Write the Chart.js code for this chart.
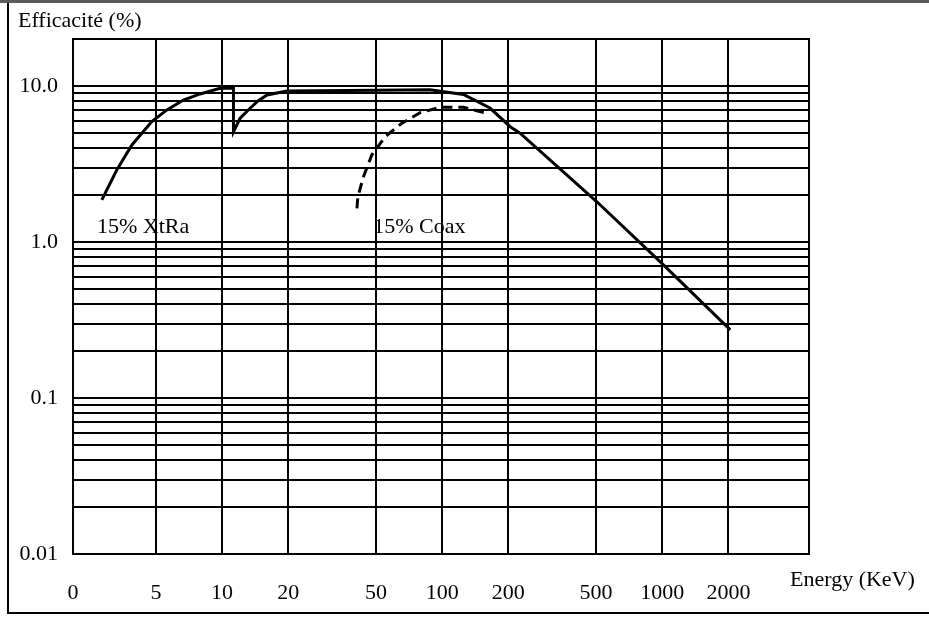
<!DOCTYPE html>
<html>
<head>
<meta charset="utf-8">
<script src="https://cdn.jsdelivr.net/npm/chart.js@4.4.1/dist/chart.umd.min.js"></script>
<style>
  html, body { margin: 0; padding: 0; background: #fff; }
  canvas { display: block; }
</style>
</head>
<body>
<canvas id="chart" width="929" height="617"></canvas>
<script>
// Data (energy in keV, efficiency in %)
const xtraEnergy = [2.84, 3.32, 3.89, 4.79, 5.61, 6.67, 7.94, 9.79, 11.26, 11.26, 12.07, 13.4, 14.6, 16.0, 19.7, 50, 88, 125, 165, 204, 226, 505, 997, 2040];
const xtraEff    = [1.86, 2.89, 4.19, 5.91, 7.02, 8.13, 8.89, 9.67, 9.67, 5.09, 6.21, 7.2, 8.05, 8.75, 9.29, 9.4, 9.45, 8.82, 7.22, 5.48, 4.98, 1.81, 0.73, 0.273];

const coaxEnergy = [41.0, 41.4, 43.9, 47.9, 55.1, 65.6, 79.4, 97.9, 125, 160];
const coaxEff    = [1.64, 1.95, 2.62, 3.61, 4.73, 5.77, 6.74, 7.30, 7.30, 6.68];

// Axis ticks (the "0" label sits on the left edge of the energy axis)
const xMin = 2.1, xMax = 4650;
const xTickValues = [2.1, 5, 10, 20, 50, 100, 200, 500, 1000, 2000];
const xTickLabels = ['0', '5', '10', '20', '50', '100', '200', '500', '1000', '2000'];
const yMin = 0.01, yMax = 20;
const yLabelValues = [10, 1, 0.1, 0.01];
const yLabelTexts  = ['10.0', '1.0', '0.1', '0.01'];

// Curve captions
const noteTexts  = ['15% XtRa', '15% Coax'];
const noteEnergy = [2.70, 48.6];
const noteEff    = [1.25, 1.25];

const FONT = "'Liberation Serif', 'Times New Roman', serif";
const toPoints = (xs, ys) => xs.map((x, i) => ({ x, y: ys[i] }));
// keep only 1..9 x 10^n grid lines (drops the 15 tick chart.js adds)
const wholeSignificand = v => {
    const s = v / Math.pow(10, Math.floor(Math.log10(v) + 1e-9));
    return Math.abs(s - Math.round(s)) < 1e-6;
};

const decorations = {
    id: 'decorations',
    afterDraw(chart) {
        const { ctx, chartArea: a, scales } = chart;
        ctx.save();
        // page frame
        ctx.fillStyle = '#5a5a5a';
        ctx.fillRect(0, 0, chart.width, 3);
        ctx.strokeStyle = '#000';
        ctx.lineWidth = 2;
        ctx.beginPath();
        ctx.moveTo(8, 3); ctx.lineTo(8, 613); ctx.lineTo(chart.width, 613);
        ctx.stroke();
        // plot frame
        ctx.strokeRect(a.left, a.top, a.right - a.left, a.bottom - a.top);
        // texts
        ctx.fillStyle = '#000';
        ctx.font = '22px ' + FONT;
        ctx.textBaseline = 'middle';
        ctx.textAlign = 'left';
        ctx.fillText('Efficacité (%)', 18, 21);
        ctx.fillText('Energy (KeV)', 790, 580);
        noteTexts.forEach((t, i) => {
            ctx.fillText(t, scales.x.getPixelForValue(noteEnergy[i]), scales.y.getPixelForValue(noteEff[i]));
        });
        ctx.restore();
    }
};

new Chart(document.getElementById('chart'), {
    type: 'line',
    data: {
        datasets: [{
            label: '15% XtRa',
            data: toPoints(xtraEnergy, xtraEff),
            borderColor: '#000',
            borderWidth: 3,
            pointRadius: 0,
            tension: 0,
            fill: false
        }, {
            label: '15% Coax',
            data: toPoints(coaxEnergy, coaxEff),
            borderColor: '#000',
            borderWidth: 3,
            borderDash: [10, 6],
            pointRadius: 0,
            tension: 0,
            fill: false
        }]
    },
    options: {
        responsive: false,
        animation: false,
        devicePixelRatio: 1,
        layout: { padding: { left: 0, top: 39, right: 120, bottom: 0 } },
        plugins: { legend: { display: false }, tooltip: { enabled: false }, title: { display: false } },
        scales: {
            x: {
                type: 'logarithmic',
                min: xMin,
                max: xMax,
                afterBuildTicks: s => { s.ticks = xTickValues.map(v => ({ value: v })); },
                afterFit: s => { s.height = 63; },
                grid: { color: '#000', lineWidth: 2, drawTicks: false },
                border: { display: false },
                ticks: {
                    autoSkip: false,
                    maxRotation: 0,
                    padding: 26,
                    color: '#000',
                    font: { family: FONT, size: 22 },
                    callback: (v, i) => xTickLabels[i]
                }
            },
            y: {
                type: 'logarithmic',
                min: yMin,
                max: yMax,
                afterBuildTicks: s => { s.ticks = s.ticks.filter(t => wholeSignificand(t.value)); },
                afterFit: s => { s.width = 73; },
                grid: { color: '#000', lineWidth: 2, drawTicks: false },
                border: { display: false },
                ticks: {
                    autoSkip: false,
                    padding: 15,
                    color: '#000',
                    font: { family: FONT, size: 22 },
                    callback: v => {
                        const i = yLabelValues.findIndex(d => Math.abs(d - v) / d < 1e-6);
                        return i >= 0 ? yLabelTexts[i] : '';
                    }
                }
            }
        }
    },
    plugins: [decorations]
});
</script>
</body>
</html>
